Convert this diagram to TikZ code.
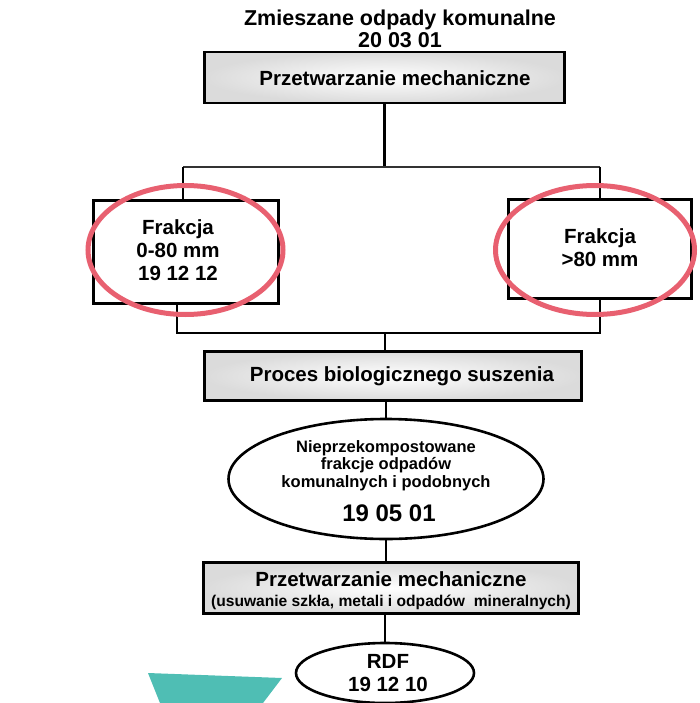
\documentclass[tikz,border=0pt]{standalone}
\usepackage{fontspec}
\setmainfont{Liberation Sans}
\usetikzlibrary{shapes.geometric}
\definecolor{ringred}{RGB}{232,96,112}
\definecolor{tealpatch}{RGB}{79,190,180}
\begin{document}
\begin{tikzpicture}[x=1pt,y=-1pt,
  procbox/.style={draw=black, line width=2.6pt, inner sep=0pt, inner color=white, outer color=gray!28},
  fracbox/.style={draw=black, line width=2.6pt, inner sep=0pt, fill=white},
  oval/.style={draw=black, ellipse, line width=2.6pt, inner sep=0pt, fill=white},
  txt/.style={inner sep=0pt, align=center, font=\fontsize{20.5}{23}\selectfont\bfseries},
  smalltxt/.style={inner sep=0pt, align=center, font=\fontsize{16.5}{17.5}\selectfont\bfseries},
  conn/.style={line width=2.6pt, black},
  thinconn/.style={line width=1.4pt, black!80},
  ring/.style={draw=ringred, line width=5pt, ellipse, inner sep=0pt}]
\useasboundingbox (0,0) rectangle (699,703);

% title
\node[txt, font=\fontsize{21.5}{22}\selectfont\bfseries] (title) at (400,29) {Zmieszane odpady komunalne\\20 03 01};

% boxes
\node[procbox, minimum width=360pt, minimum height=51pt] (m1) at (384.5,77.5) {};
\node[txt] (m1t) at (395,78) {Przetwarzanie mechaniczne};

\node[fracbox, minimum width=185pt, minimum height=103pt] (fl) at (186,252) {};
\node[txt] (flt) at (178,250) {Frakcja\\0-80 mm\\19 12 12};

\node[fracbox, minimum width=183pt, minimum height=99pt] (fr) at (600,249) {};
\node[txt] (frt) at (600,247.5) {Frakcja\\>80 mm};

\node[procbox, minimum width=377pt, minimum height=49pt] (bio) at (393,376) {};
\node[txt] (biot) at (402,376) {Proces biologicznego suszenia};

\node[oval, minimum width=315pt, minimum height=120pt] (e1) at (386,479) {};
\node[smalltxt] (e1t) at (386,465.5) {Nieprzekompostowane\\frakcje odpadów\\komunalnych i podobnych};
\node[txt, font=\fontsize{24}{26}\selectfont\bfseries] (e1c) at (389,513) {19 05 01};

\node[procbox, minimum width=375pt, minimum height=51pt] (m2) at (391,588) {};
\node[txt] (m2t) at (391,579) {Przetwarzanie mechaniczne};
\node[inner sep=0pt, font=\fontsize{15.6}{17}\selectfont\bfseries] (m2s) at (391,602) {(usuwanie szkła, metali i odpadów~ mineralnych)};

\node[oval, minimum width=178pt, minimum height=60pt] (rdf) at (385,673) {};
\node[txt] (rdft) at (388,673.5) {RDF\\19 12 10};

% connectors
\coordinate (j1) at (384.5,167);
\coordinate (jl) at (183,167);
\coordinate (jr) at (600,167);
\draw[conn] (m1.south) -- (j1);
\draw[thinconn] (jl) -- (jr);
\draw[conn] (jl) -- (jl |- fl.north);
\draw[conn] (jr) -- (fr.north);

\coordinate (kl) at (177,333);
\coordinate (kr) at (600,333);
\coordinate (kc) at (385,333);
\draw[conn] (kl |- fl.south) -- (kl) -- (kr) -- (fr.south);
\draw[conn] (kc) -- (kc |- bio.north);
\draw[conn] (bio.south -| e1.north) -- (e1.north);
\draw[conn] (e1.south) -- (e1.south |- m2.north);
\draw[conn] (m2.south -| rdf.north) -- (rdf.north);

% highlight rings
\node[ring, minimum width=195pt, minimum height=129pt] (rl) at (185.5,250) {};
\node[ring, minimum width=199pt, minimum height=129pt] (rr) at (595,250) {};

% teal patch
\fill[tealpatch] (148,673) -- (282,678) -- (263,703) -- (160,703) -- cycle;
\end{tikzpicture}
\end{document}
